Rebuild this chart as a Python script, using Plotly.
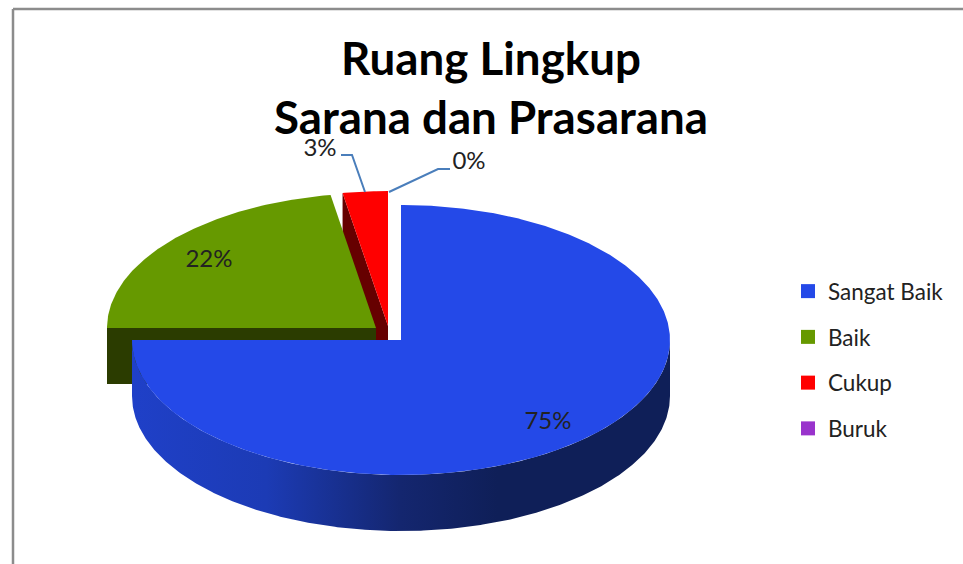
import numpy as np
import plotly.graph_objects as go

categories = ["Sangat Baik", "Baik", "Cukup", "Buruk"]
values = [75, 22.3, 2.7, 0]
top_colors = ["#2449E8", "#669900", "#FF0000", "#9933CC"]
cut_colors = ["#1F40C8", "#2B3C00", "#660000", "#4D1A66"]
title_lines = ["Ruang Lingkup", "Sarana dan Prasarana"]
FONT = "Lato"

# Pie geometry on a canvas-sized scale
W, H = 963, 564
CX, CY = 401, 340
RX, RY = 269, 135
DEPTH = 56
# explode offset of each slice (dx, dy)
EXPLODE = [(0, 0), (-25, -12), (-13, -14), (-13, -14)]
# label anchors
LABEL_XY = [(548, 423), (209, 261), (320, 150), (469, 163)]


def rim(a0, a1, ox, oy, dz=0):
    t = np.radians(np.linspace(a0, a1, max(2, int(abs(a1 - a0)) * 2 + 2)))
    return ox + RX * np.sin(t), oy - RY * np.cos(t) + dz


def poly(xs, ys, color, **kw):
    return go.Scatter(x=list(xs), y=list(ys), mode="lines", fill="toself",
                      fillcolor=color, line=dict(width=0, color=color),
                      hoverinfo="skip", showlegend=False, **kw)


# slice spans, clockwise from 12 o'clock
cum = np.cumsum([0] + values) * 3.6
spans = list(zip(cum[:-1], cum[1:]))

fig = go.Figure()

# red slice: walls then top
a0, a1 = spans[2]
ox, oy = CX + EXPLODE[2][0], CY + EXPLODE[2][1]
ex, ey = rim(a0, a0, ox, oy)
fig.add_trace(poly([ex[0], ex[0], ox, ox], [ey[0], ey[0] + DEPTH, oy + DEPTH, oy], cut_colors[2]))
x, y = rim(a0, a1, ox, oy)
fig.add_trace(poly([ox, *x], [oy, *y], top_colors[2]))

# green slice: front cut wall then top
a0, a1 = spans[1]
ox, oy = CX + EXPLODE[1][0], CY + EXPLODE[1][1]
ex, ey = rim(a0, a0, ox, oy)
fig.add_trace(poly([ex[0], ex[0], ox, ox], [ey[0], ey[0] + DEPTH, oy + DEPTH, oy], cut_colors[1]))
x, y = rim(a0, a1, ox, oy)
fig.add_trace(poly([ox, *x], [oy, *y], top_colors[1]))

# blue slice: gradient rim wall then top
a0, a1 = spans[0]
ox, oy = CX + EXPLODE[0][0], CY + EXPLODE[0][1]
x, y = rim(90, a1, ox, oy)
xb, yb = rim(a1, 90, ox, oy, DEPTH)
fig.add_trace(go.Scatter(
    x=[*x, *xb], y=[*y, *yb], mode="lines", fill="toself",
    line=dict(width=0), hoverinfo="skip", showlegend=False,
    fillgradient=dict(type="horizontal", colorscale=[
        [0.0, "#1F40C8"], [0.25, "#1C3BB5"], [0.5, "#14266F"],
        [0.68, "#0F1F58"], [1.0, "#0F1F58"]]),
))
x, y = rim(a0, a1, ox, oy)
fig.add_trace(poly([ox, *x], [oy, *y], top_colors[0]))

# leader lines for the two small slices
leader_color = "#4A7EBB"
fig.add_trace(go.Scatter(x=[341, 352, 365], y=[155, 155, 192], mode="lines",
                         line=dict(color=leader_color, width=2), hoverinfo="skip", showlegend=False))
fig.add_trace(go.Scatter(x=[389, 438, 450], y=[192, 169, 169], mode="lines",
                         line=dict(color=leader_color, width=2), hoverinfo="skip", showlegend=False))

# percentage labels
fig.add_trace(go.Scatter(
    x=[p[0] for p in LABEL_XY], y=[p[1] for p in LABEL_XY], mode="text",
    text=[f"{round(v)}%" for v in values], textposition="middle center",
    textfont=dict(family=FONT, size=24, color="#222222"),
    hoverinfo="skip", showlegend=False,
))

# legend entries
for i, (name, col) in enumerate(zip(categories, top_colors)):
    fig.add_trace(go.Scatter(x=[None], y=[None], mode="markers", name=name, legendgroup=name,
                             marker=dict(symbol="square", size=14, color=col)))

fig.update_layout(
    width=W, height=H, margin=dict(l=0, r=0, t=0, b=0),
    paper_bgcolor="white", plot_bgcolor="white", autosize=False,
    xaxis=dict(visible=False, range=[0, W], fixedrange=True),
    yaxis=dict(visible=False, range=[H, 0], fixedrange=True),
    title=dict(text="<br>".join(title_lines), x=491 / W, xanchor="center",
               y=1 - 75 / H, yanchor="top",
               font=dict(family=FONT, size=45.7, color="#000000", weight="bold")),
    legend=dict(x=788 / W, y=1 - 270 / H, xanchor="left", yanchor="top",
                font=dict(family=FONT, size=22.5, color="#222222"),
                tracegroupgap=13.5, bgcolor="rgba(0,0,0,0)"),
    shapes=[
        dict(type="line", xref="x", yref="y", x0=13, x1=W, y0=9, y1=9,
             line=dict(color="#8C8C8C", width=2.5)),
        dict(type="line", xref="x", yref="y", x0=13, x1=13, y0=9, y1=H,
             line=dict(color="#8C8C8C", width=2.5)),
    ],
)
fig.write_html("out.html", post_script="document.body.style.margin='0';",
               config={"displayModeBar": False})
